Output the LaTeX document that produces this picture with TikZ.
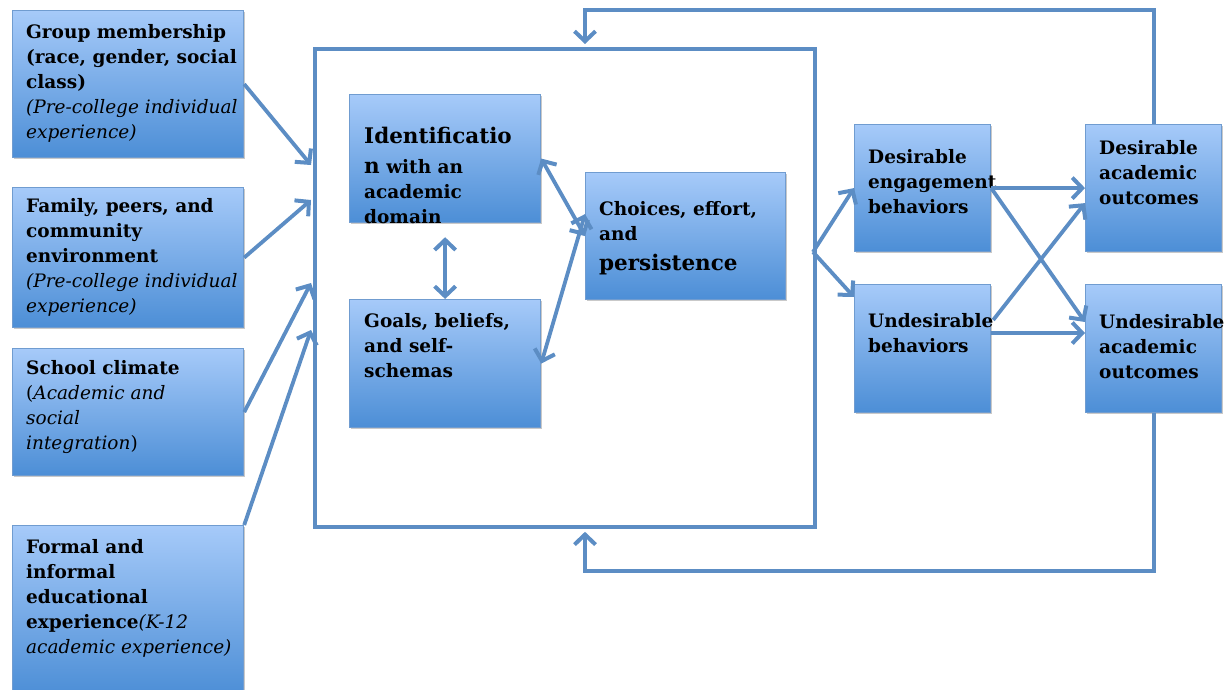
\documentclass[tikz,border=0pt]{standalone}
\usepackage{fontspec}
\setmainfont{DejaVu Serif}
\usetikzlibrary{arrows.meta,shadows,calc}

\definecolor{linecol}{RGB}{92,141,196}
\definecolor{boxtop}{RGB}{166,202,249}
\definecolor{boxbot}{RGB}{76,142,214}
\definecolor{boxedge}{RGB}{112,156,208}

\newcommand\lite[1]{{\mdseries\itshape #1}}
\newcommand\bigtxt[1]{{\fontsize{21.5}{25}\selectfont #1}}

\tikzset{
  blk/.style={draw=boxedge, line width=1.2pt, top color=boxtop, bottom color=boxbot,
    inner sep=0pt, anchor=north west,
    drop shadow={shadow xshift=1.5pt, shadow yshift=-1.8pt, opacity=0.3, fill=black!70}},
  lbl/.style={anchor=north west, inner sep=0pt, align=left,
    font=\fontsize{18.5}{25}\selectfont\bfseries},
  conn/.style={draw=linecol, line width=3.8pt, line join=miter},
  barb/.tip={Straight Barb[length=10pt,width=21pt,line width=4pt]},
  tipend/.style={-barb},
  tipboth/.style={barb-barb},
}

\begin{document}
\begin{tikzpicture}[x=1pt,y=-1pt]
\useasboundingbox (0,0) rectangle (1231,690);

% central frame with a faint shadow
\draw[black, opacity=0.18, line width=3.8pt] (314.5,48.5) rectangle (814.5,526.5);
\node[draw=linecol, line width=3.8pt, inner sep=0pt, anchor=north west,
      minimum width=500pt, minimum height=478pt] (frame) at (313,47) {};

% input boxes on the left
\node[blk, minimum width=231pt, minimum height=147pt] (g1) at (12,10) {};
\node[blk, minimum width=231pt, minimum height=140pt] (g2) at (12,187) {};
\node[blk, minimum width=231pt, minimum height=127pt] (g3) at (12,348) {};
\node[blk, minimum width=231pt, minimum height=170pt] (g4) at (12,525) {};

% inner boxes
\node[blk, minimum width=191pt, minimum height=128pt] (id) at (349,94) {};
\node[blk, minimum width=191pt, minimum height=128pt] (gb) at (349,299) {};
\node[blk, minimum width=200pt, minimum height=127pt] (ch) at (585,172) {};

% behaviours and outcomes
\node[blk, minimum width=136pt, minimum height=127pt] (de) at (854,124) {};
\node[blk, minimum width=136pt, minimum height=128pt] (ub) at (854,284) {};
\node[blk, minimum width=136pt, minimum height=127pt] (do) at (1085,124) {};
\node[blk, minimum width=136pt, minimum height=128pt] (uo) at (1085,284) {};

% labels
\node[lbl] (t1) at (26,20) {\rule{0pt}{18pt}Group membership\\(race, gender, social\\class)\\\lite{(Pre-college individual}\\\lite{experience)}};
\node[lbl] (t2) at (26,194) {\rule{0pt}{18pt}Family, peers, and\\community\\environment\\\lite{(Pre-college individual}\\\lite{experience)}};
\node[lbl] (t3) at (26,356) {\rule{0pt}{18pt}School climate\\{\mdseries(}\lite{Academic and}\\\lite{social}\\\lite{integration}{\mdseries)}};
\node[lbl] (t4) at (26,535) {\rule{0pt}{18pt}Formal and\\informal\\educational\\experience\lite{(K-12}\\\lite{academic experience)}};

\node[lbl] (tid) at (364,125) {\rule{0pt}{18pt}\bigtxt{Identificatio}\\[5pt]\bigtxt{n} with an\\academic\\domain};
\node[lbl] (tgb) at (364,309) {\rule{0pt}{18pt}Goals, beliefs,\\and self-\\schemas};
\node[lbl] (tch) at (599,197) {\rule{0pt}{18pt}Choices, effort,\\and\\[5pt]\bigtxt{persistence}};

\node[lbl] (tde) at (868,145) {\rule{0pt}{18pt}Desirable\\engagement\\behaviors};
\node[lbl] (tub) at (868,309) {\rule{0pt}{18pt}Undesirable\\behaviors};
\node[lbl] (tdo) at (1099,136) {\rule{0pt}{18pt}Desirable\\academic\\outcomes};
\node[lbl] (tuo) at (1099,310) {\rule{0pt}{18pt}Undesirable\\academic\\outcomes};

% entry points on the frame
\coordinate (in1) at (311,165);
\coordinate (in2) at (311,200);
\coordinate (in3) at (311,283);
\coordinate (in4) at (311,330);
\coordinate (fo) at (813,252);
\coordinate (fbtop) at (585,10);
\coordinate (fbbot) at (585,571);

% inputs into the frame
\draw[conn,tipend] (g1.east) -- (in1);
\draw[conn,tipend] (g2.east) -- (in2);
\draw[conn,tipend] (g3.east) -- (in3);
\draw[conn,tipend] (g4.north east) -- (in4);

% links inside the frame
\draw[conn,tipboth,shorten <=14pt] (id.south) -- (gb.north);
\draw[conn,tipboth] (id.east) -- (ch.west);
\draw[conn,tipboth] (gb.east) -- ($(ch.west)+(0,-22)$);

% frame to behaviours
\draw[conn,tipend] (fo) -- (de.west);
\draw[conn,tipend] (fo) -- ($(ub.north west)+(0,13)$);

% behaviours to outcomes
\draw[conn,tipend] (de.east) -- (do.west);
\draw[conn,tipend] (de.east) -- ($(uo.north west)+(0,38)$);
\draw[conn,tipend] ($(ub.north east)+(2,36)$) -- ($(do.west)+(0,15)$);
\draw[conn,tipend] ($(ub.north east)+(0,49)$) -- ($(uo.north west)+(0,49)$);

% feedback loops
\draw[conn,tipend] (do.north) -- (do.north |- fbtop) -- (fbtop) -- ($(fbtop |- frame.north)+(0,-3)$);
\draw[conn,tipend] (uo.south) -- (uo.south |- fbbot) -- (fbbot) -- ($(fbbot |- frame.south)+(0,3)$);
\end{tikzpicture}
\end{document}
